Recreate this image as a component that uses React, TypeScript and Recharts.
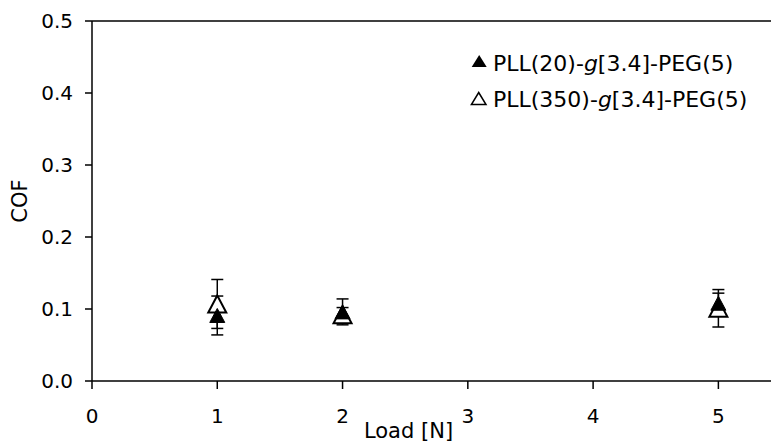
import React from 'react';
import { ScatterChart, Scatter, XAxis, YAxis, ErrorBar, ReferenceLine } from 'recharts';

const loads = [1, 2, 5];
const cofPLL20 = [0.091, 0.096, 0.108];
const errPLL20 = [0.027, 0.018, 0.014];
const cofPLL350 = [0.107, 0.092, 0.101];
const errPLL350 = [0.034, 0.01, 0.026];
const xTicks = [0, 1, 2, 3, 4, 5];
const yTicks = [0, 0.1, 0.2, 0.3, 0.4, 0.5];
const seriesNames = ['PLL(20)-', 'PLL(350)-'];

const dataPLL20 = loads.map((x, i) => ({ load: x, cof: cofPLL20[i], err: errPLL20[i] }));
const dataPLL350 = loads.map((x, i) => ({ load: x, cof: cofPLL350[i], err: errPLL350[i] }));

const FONT = 'DejaVu Sans, Verdana, sans-serif';

const FilledTri = (props: any) => {
  const { cx, cy } = props;
  const w = 15, h = 14;
  return <path d={`M${cx},${cy - h / 2} L${cx + w / 2},${cy + h / 2} L${cx - w / 2},${cy + h / 2} Z`} fill="#000" stroke="#000" strokeWidth={1} />;
};

const HollowTri = (props: any) => {
  const { cx, cy } = props;
  const w = 18, h = 17;
  return <path d={`M${cx},${cy - h / 2} L${cx + w / 2},${cy + h / 2} L${cx - w / 2},${cy + h / 2} Z`} fill="#fff" stroke="#000" strokeWidth={2} />;
};

const LegendBox = () => (
  <svg width={300} height={80} style={{ display: 'block' }}>
    <path d="M19.2,15 L26.7,27 L11.7,27 Z" fill="#000" />
    <text x={33} y={31} fontSize={22} fontFamily={FONT} fill="#000">
      {seriesNames[0]}<tspan fontStyle="italic">g</tspan>[3.4]-PEG(5)
    </text>
    <path d="M18.7,52.5 L26,64.5 L11.4,64.5 Z" fill="none" stroke="#000" strokeWidth={1.5} />
    <text x={33} y={67} fontSize={22} fontFamily={FONT} fill="#000">
      {seriesNames[1]}<tspan fontStyle="italic">g</tspan>[3.4]-PEG(5)
    </text>
  </svg>
);

export default function App() {
  return (
    <div style={{ position: 'absolute', left: 0, top: 0, width: 771, height: 442, background: '#fff' }}>
      <ScatterChart width={771} height={442} margin={{ top: 21, right: 0, bottom: 0, left: 0 }} style={{ fontFamily: FONT }}>
        <XAxis
          type="number"
          dataKey="load"
          domain={[0, 5.42]}
          ticks={xTicks}
          allowDataOverflow
          height={61}
          tickSize={8}
          tickMargin={20}
          stroke="#000"
          strokeWidth={1.5}
          tick={{ fontSize: 20, fill: '#000', fontFamily: FONT }}
          label={{ value: 'Load [N]', position: 'insideBottom', offset: 4, dx: -23, fontSize: 21, fill: '#000', fontFamily: FONT }}
        />
        <YAxis
          type="number"
          dataKey="cof"
          domain={[0, 0.5]}
          ticks={yTicks}
          allowDataOverflow
          width={92}
          tickSize={7}
          tickMargin={12}
          stroke="#000"
          strokeWidth={1.5}
          tickFormatter={(v: number) => v.toFixed(1)}
          tick={{ fontSize: 20, fill: '#000', fontFamily: FONT }}
          label={{ value: 'COF', angle: -90, position: 'center', dx: -26, fontSize: 21, fill: '#000', fontFamily: FONT }}
        />
        <ReferenceLine y={0.5} stroke="#000" strokeWidth={1.5} />
        <Scatter name="PLL(350)-g[3.4]-PEG(5)" data={dataPLL350} shape={<HollowTri />} isAnimationActive={false}>
          <ErrorBar dataKey="err" direction="y" width={6} stroke="#000" strokeWidth={1.5} />
        </Scatter>
        <Scatter name="PLL(20)-g[3.4]-PEG(5)" data={dataPLL20} shape={<FilledTri />} isAnimationActive={false}>
          <ErrorBar dataKey="err" direction="y" width={6} stroke="#000" strokeWidth={1.5} />
        </Scatter>
      </ScatterChart>
      <div style={{ position: 'absolute', left: 460, top: 40 }}>
        <LegendBox />
      </div>
    </div>
  );
}
